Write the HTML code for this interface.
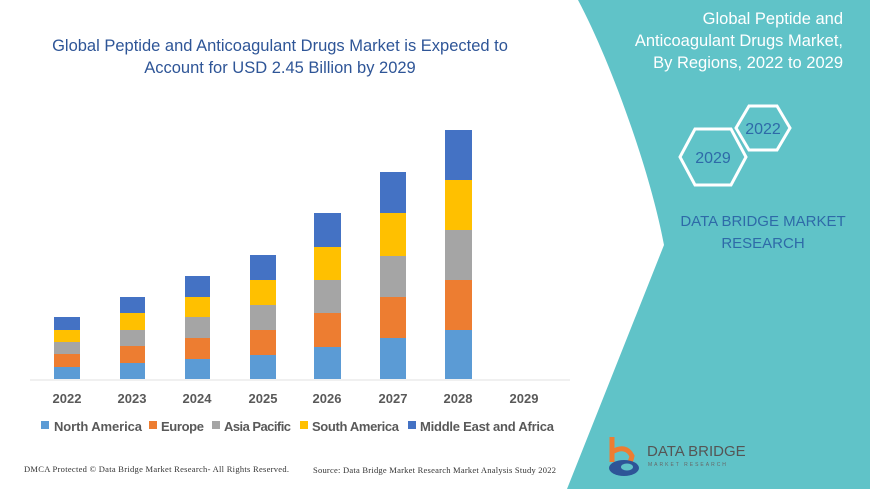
<!DOCTYPE html>
<html><head><meta charset="utf-8"><style>
body{margin:0;width:870px;height:489px;overflow:hidden;background:#fff;font-family:"Liberation Sans",sans-serif;}
</style></head><body>
<svg width="870" height="489" viewBox="0 0 870 489" xmlns="http://www.w3.org/2000/svg" style="position:absolute;left:0;top:0">
<path d="M578,0 C610,60 650,170 664,245 L567,489 L870,489 L870,0 Z" fill="#60c3c8"/>
<g font-family="Liberation Sans, sans-serif">
<text x="280" y="51" font-size="16.5" fill="#2e5597" text-anchor="middle">Global Peptide and Anticoagulant Drugs Market is Expected to</text>
<text x="280" y="73" font-size="16.5" fill="#2e5597" text-anchor="middle">Account for USD 2.45 Billion by 2029</text>
<text x="843" y="24" font-size="16.5" fill="#fff" text-anchor="end">Global Peptide and</text>
<text x="843" y="46" font-size="16.5" fill="#fff" text-anchor="end">Anticoagulant Drugs Market,</text>
<text x="843" y="68" font-size="16.5" fill="#fff" text-anchor="end">By Regions, 2022 to 2029</text>
<polygon points="736,128 749,106 777,106 790,128 777,150 749,150" fill="none" stroke="#fff" stroke-width="3"/>
<text x="763" y="134" font-size="16" fill="#2e6aa8" text-anchor="middle">2022</text>
<polygon points="680,157 695,129 731,129 746,157 731,185 695,185" fill="none" stroke="#fff" stroke-width="3"/>
<text x="713" y="163" font-size="16" fill="#2e6aa8" text-anchor="middle">2029</text>
<text x="763" y="226" font-size="15" fill="#2e6aa8" text-anchor="middle">DATA BRIDGE MARKET</text>
<text x="763" y="248" font-size="15" fill="#2e6aa8" text-anchor="middle">RESEARCH</text>
</g>
<line x1="30" y1="380" x2="570" y2="380" stroke="#e0e0e0"/>
<g>
<rect x="54" y="367" width="26" height="12" fill="#5b9bd5"/><rect x="54" y="354" width="26" height="13" fill="#ed7d31"/><rect x="54" y="342" width="26" height="12" fill="#a5a5a5"/><rect x="54" y="330" width="26" height="12" fill="#ffc000"/><rect x="54" y="317" width="26" height="13" fill="#4472c4"/>
<rect x="120" y="363" width="25" height="16" fill="#5b9bd5"/><rect x="120" y="346" width="25" height="17" fill="#ed7d31"/><rect x="120" y="330" width="25" height="16" fill="#a5a5a5"/><rect x="120" y="313" width="25" height="17" fill="#ffc000"/><rect x="120" y="297" width="25" height="16" fill="#4472c4"/>
<rect x="185" y="359" width="25" height="20" fill="#5b9bd5"/><rect x="185" y="338" width="25" height="21" fill="#ed7d31"/><rect x="185" y="317" width="25" height="21" fill="#a5a5a5"/><rect x="185" y="297" width="25" height="20" fill="#ffc000"/><rect x="185" y="276" width="25" height="21" fill="#4472c4"/>
<rect x="250" y="355" width="26" height="24" fill="#5b9bd5"/><rect x="250" y="330" width="26" height="25" fill="#ed7d31"/><rect x="250" y="305" width="26" height="25" fill="#a5a5a5"/><rect x="250" y="280" width="26" height="25" fill="#ffc000"/><rect x="250" y="255" width="26" height="25" fill="#4472c4"/>
<rect x="314" y="347" width="27" height="32" fill="#5b9bd5"/><rect x="314" y="313" width="27" height="34" fill="#ed7d31"/><rect x="314" y="280" width="27" height="33" fill="#a5a5a5"/><rect x="314" y="247" width="27" height="33" fill="#ffc000"/><rect x="314" y="213" width="27" height="34" fill="#4472c4"/>
<rect x="380" y="338" width="26" height="41" fill="#5b9bd5"/><rect x="380" y="297" width="26" height="41" fill="#ed7d31"/><rect x="380" y="256" width="26" height="41" fill="#a5a5a5"/><rect x="380" y="213" width="26" height="43" fill="#ffc000"/><rect x="380" y="172" width="26" height="41" fill="#4472c4"/>
<rect x="445" y="330" width="27" height="49" fill="#5b9bd5"/><rect x="445" y="280" width="27" height="50" fill="#ed7d31"/><rect x="445" y="230" width="27" height="50" fill="#a5a5a5"/><rect x="445" y="180" width="27" height="50" fill="#ffc000"/><rect x="445" y="130" width="27" height="50" fill="#4472c4"/>
</g>
<g font-family="Liberation Sans, sans-serif" font-size="13" font-weight="bold" fill="#595959" text-anchor="middle">
<text x="67" y="403">2022</text><text x="132" y="403">2023</text><text x="197" y="403">2024</text><text x="263" y="403">2025</text><text x="327" y="403">2026</text><text x="393" y="403">2027</text><text x="458" y="403">2028</text><text x="524" y="403">2029</text>
</g>
<g font-family="Liberation Sans, sans-serif" font-size="13" font-weight="bold" fill="#595959">
<rect x="41" y="421" width="8" height="8" fill="#5b9bd5"/><text x="54" y="431" textLength="88">North America</text>
<rect x="149" y="421" width="8" height="8" fill="#ed7d31"/><text x="161" y="431" textLength="43">Europe</text>
<rect x="212" y="421" width="8" height="8" fill="#a5a5a5"/><text x="224" y="431" textLength="67">Asia Pacific</text>
<rect x="300" y="421" width="8" height="8" fill="#ffc000"/><text x="312" y="431" textLength="87">South America</text>
<rect x="408" y="421" width="8" height="8" fill="#4472c4"/><text x="420" y="431" textLength="134">Middle East and Africa</text>
</g>
<g font-family="Liberation Serif, serif" font-size="8.5" fill="#333">
<text x="24" y="472" textLength="265">DMCA Protected © Data Bridge Market Research- All Rights Reserved.</text>
<text x="313" y="473" textLength="243">Source: Data Bridge Market Research Market Analysis Study 2022</text>
</g>
<g>
<path d="M612,437 L612,462 M612,452 Q626,444 632,456 Q630,468 617,467" fill="none" stroke="#ed7d31" stroke-width="5"/>
<ellipse cx="624" cy="468" rx="15" ry="8" fill="#2e5597"/>
<ellipse cx="627" cy="467" rx="6" ry="3.5" fill="#60c3c8"/>
<text x="647" y="456" font-family="Liberation Sans, sans-serif" font-size="15" fill="#555">DATA BRIDGE</text>
<text x="648" y="466" font-family="Liberation Sans, sans-serif" font-size="5" letter-spacing="2" fill="#666">MARKET RESEARCH</text>
</g>
</svg>
</body></html>
